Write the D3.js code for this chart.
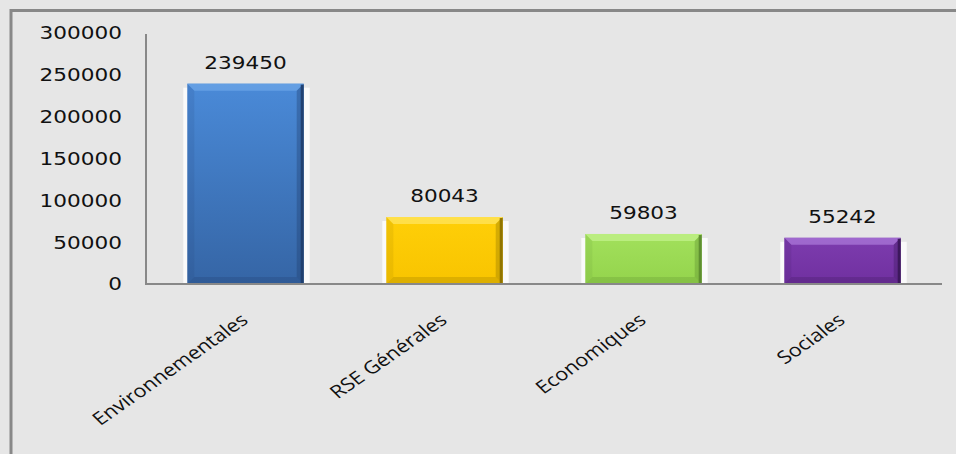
<!DOCTYPE html>
<html><head><meta charset="utf-8">
<script src="https://cdn.jsdelivr.net/npm/d3@7"></script>
<style>html,body{margin:0;padding:0;background:#e6e6e6;}svg{display:block;}</style>
</head><body>
<svg id="c" width="956" height="454"></svg>
<script>
const categories = ["Environnementales", "RSE Générales", "Economiques", "Sociales"];
const values = [239450, 80043, 59803, 55242];
const yTicks = [0, 50000, 100000, 150000, 200000, 250000, 300000];
const barColors = [
  {top:"#4a8ad8", bottom:"#3565a5", light:"#6aa4e6", dark:"#1f3d6b"},
  {top:"#ffcf08", bottom:"#f8c400", light:"#ffe45a", dark:"#8a6f00"},
  {top:"#a2e05c", bottom:"#94d44c", light:"#c0f088", dark:"#5a8a2e"},
  {top:"#7d3cae", bottom:"#7030a0", light:"#a774d6", dark:"#3a1658"}
];

(function(){
const svg = d3.select("#c");
svg.append("rect").attr("width",956).attr("height",454).attr("fill","#e6e6e6");
svg.append("rect").attr("x",11).attr("y",10.5).attr("width",1000).attr("height",500)
  .attr("fill","none").attr("stroke","#888").attr("stroke-width",3);

const pLeft = 146, pRight = 942, pTop = 33, pBottom = 284;
const x = d3.scaleBand().domain(categories).range([pLeft, pRight]).paddingInner(0.415).paddingOuter(0.2075);
const y = d3.scaleLinear().domain([0, 300000]).range([pBottom, pTop]);

const defs = svg.append("defs");
barColors.forEach((c,i)=>{
  const g = defs.append("linearGradient").attr("id","g"+i).attr("x1",0).attr("y1",0).attr("x2",0).attr("y2",1);
  g.append("stop").attr("offset","0%").attr("stop-color",c.top);
  g.append("stop").attr("offset","100%").attr("stop-color",c.bottom);
});

const stretch = 1.2;
svg.append("g").selectAll("g").data(yTicks).join("g")
  .attr("transform", d => `translate(122,${y(d)}) scale(${stretch},1)`)
  .append("text").attr("text-anchor","end").attr("dy","0.36em")
  .attr("font-family","DejaVu Sans").attr("font-size",18).attr("fill","#111")
  .text(d => d);

const bars = svg.append("g").selectAll("g").data(values).join("g");
bars.append("rect")
  .attr("x",(d,i)=>x(categories[i])-4).attr("y",d=>y(d)+4)
  .attr("width",x.bandwidth()+10).attr("height",d=>pBottom-y(d)-4)
  .attr("fill","#fafafa");
bars.append("rect")
  .attr("x",(d,i)=>x(categories[i])).attr("y",d=>y(d))
  .attr("width",x.bandwidth()).attr("height",d=>pBottom-y(d))
  .attr("fill",(d,i)=>`url(#g${i})`);
const bev = 7;
bars.append("polygon").attr("points",(d,i)=>{
  const x0=x(categories[i]), x1=x0+x.bandwidth(), t=y(d);
  return `${x0},${t} ${x1},${t} ${x1-bev},${t+bev} ${x0+bev},${t+bev}`;
}).attr("fill",(d,i)=>barColors[i].light).attr("opacity",0.8);
bars.append("polygon").attr("points",(d,i)=>{
  const x0=x(categories[i]), x1=x0+x.bandwidth(), t=y(d);
  return `${x1},${t} ${x1},${pBottom} ${x1-bev},${pBottom-bev} ${x1-bev},${t+bev}`;
}).attr("fill",(d,i)=>barColors[i].dark).attr("opacity",0.35);
bars.append("rect")
  .attr("x",(d,i)=>x(categories[i])+x.bandwidth()-3).attr("y",d=>y(d)+1)
  .attr("width",3).attr("height",d=>pBottom-y(d)-1)
  .attr("fill",(d,i)=>barColors[i].dark).attr("opacity",0.9);
bars.append("polygon").attr("points",(d,i)=>{
  const x0=x(categories[i]), x1=x0+x.bandwidth();
  return `${x0},${pBottom} ${x1},${pBottom} ${x1-bev},${pBottom-bev} ${x0+bev},${pBottom-bev}`;
}).attr("fill",(d,i)=>barColors[i].dark).attr("opacity",0.25);
bars.append("polygon").attr("points",(d,i)=>{
  const x0=x(categories[i]), t=y(d);
  return `${x0},${t} ${x0+bev},${t+bev} ${x0+bev},${pBottom-bev} ${x0},${pBottom}`;
}).attr("fill",(d,i)=>barColors[i].dark).attr("opacity",0.12);

bars.append("g")
  .attr("transform",(d,i)=>`translate(${x(categories[i])+x.bandwidth()/2},${y(d)-15}) scale(${stretch},1)`)
  .append("text").attr("text-anchor","middle")
  .attr("font-family","DejaVu Sans").attr("font-size",18).attr("fill","#111")
  .text(d=>d);

svg.append("line").attr("x1",pLeft).attr("x2",pLeft).attr("y1",pTop+1).attr("y2",pBottom)
  .attr("stroke","#888").attr("stroke-width",2);
svg.append("line").attr("x1",pLeft-1).attr("x2",pRight).attr("y1",pBottom).attr("y2",pBottom)
  .attr("stroke","#888").attr("stroke-width",2);

svg.append("g").selectAll("g").data(categories).join("g")
  .attr("transform",d=>`translate(${x(d)+x.bandwidth()/2+4},322) scale(${stretch},1) rotate(-40)`)
  .append("text").attr("text-anchor","end")
  .attr("font-family","Open Sans").attr("font-size",18).attr("fill","#111")
  .text(d=>d);
})();
</script>
</body></html>
